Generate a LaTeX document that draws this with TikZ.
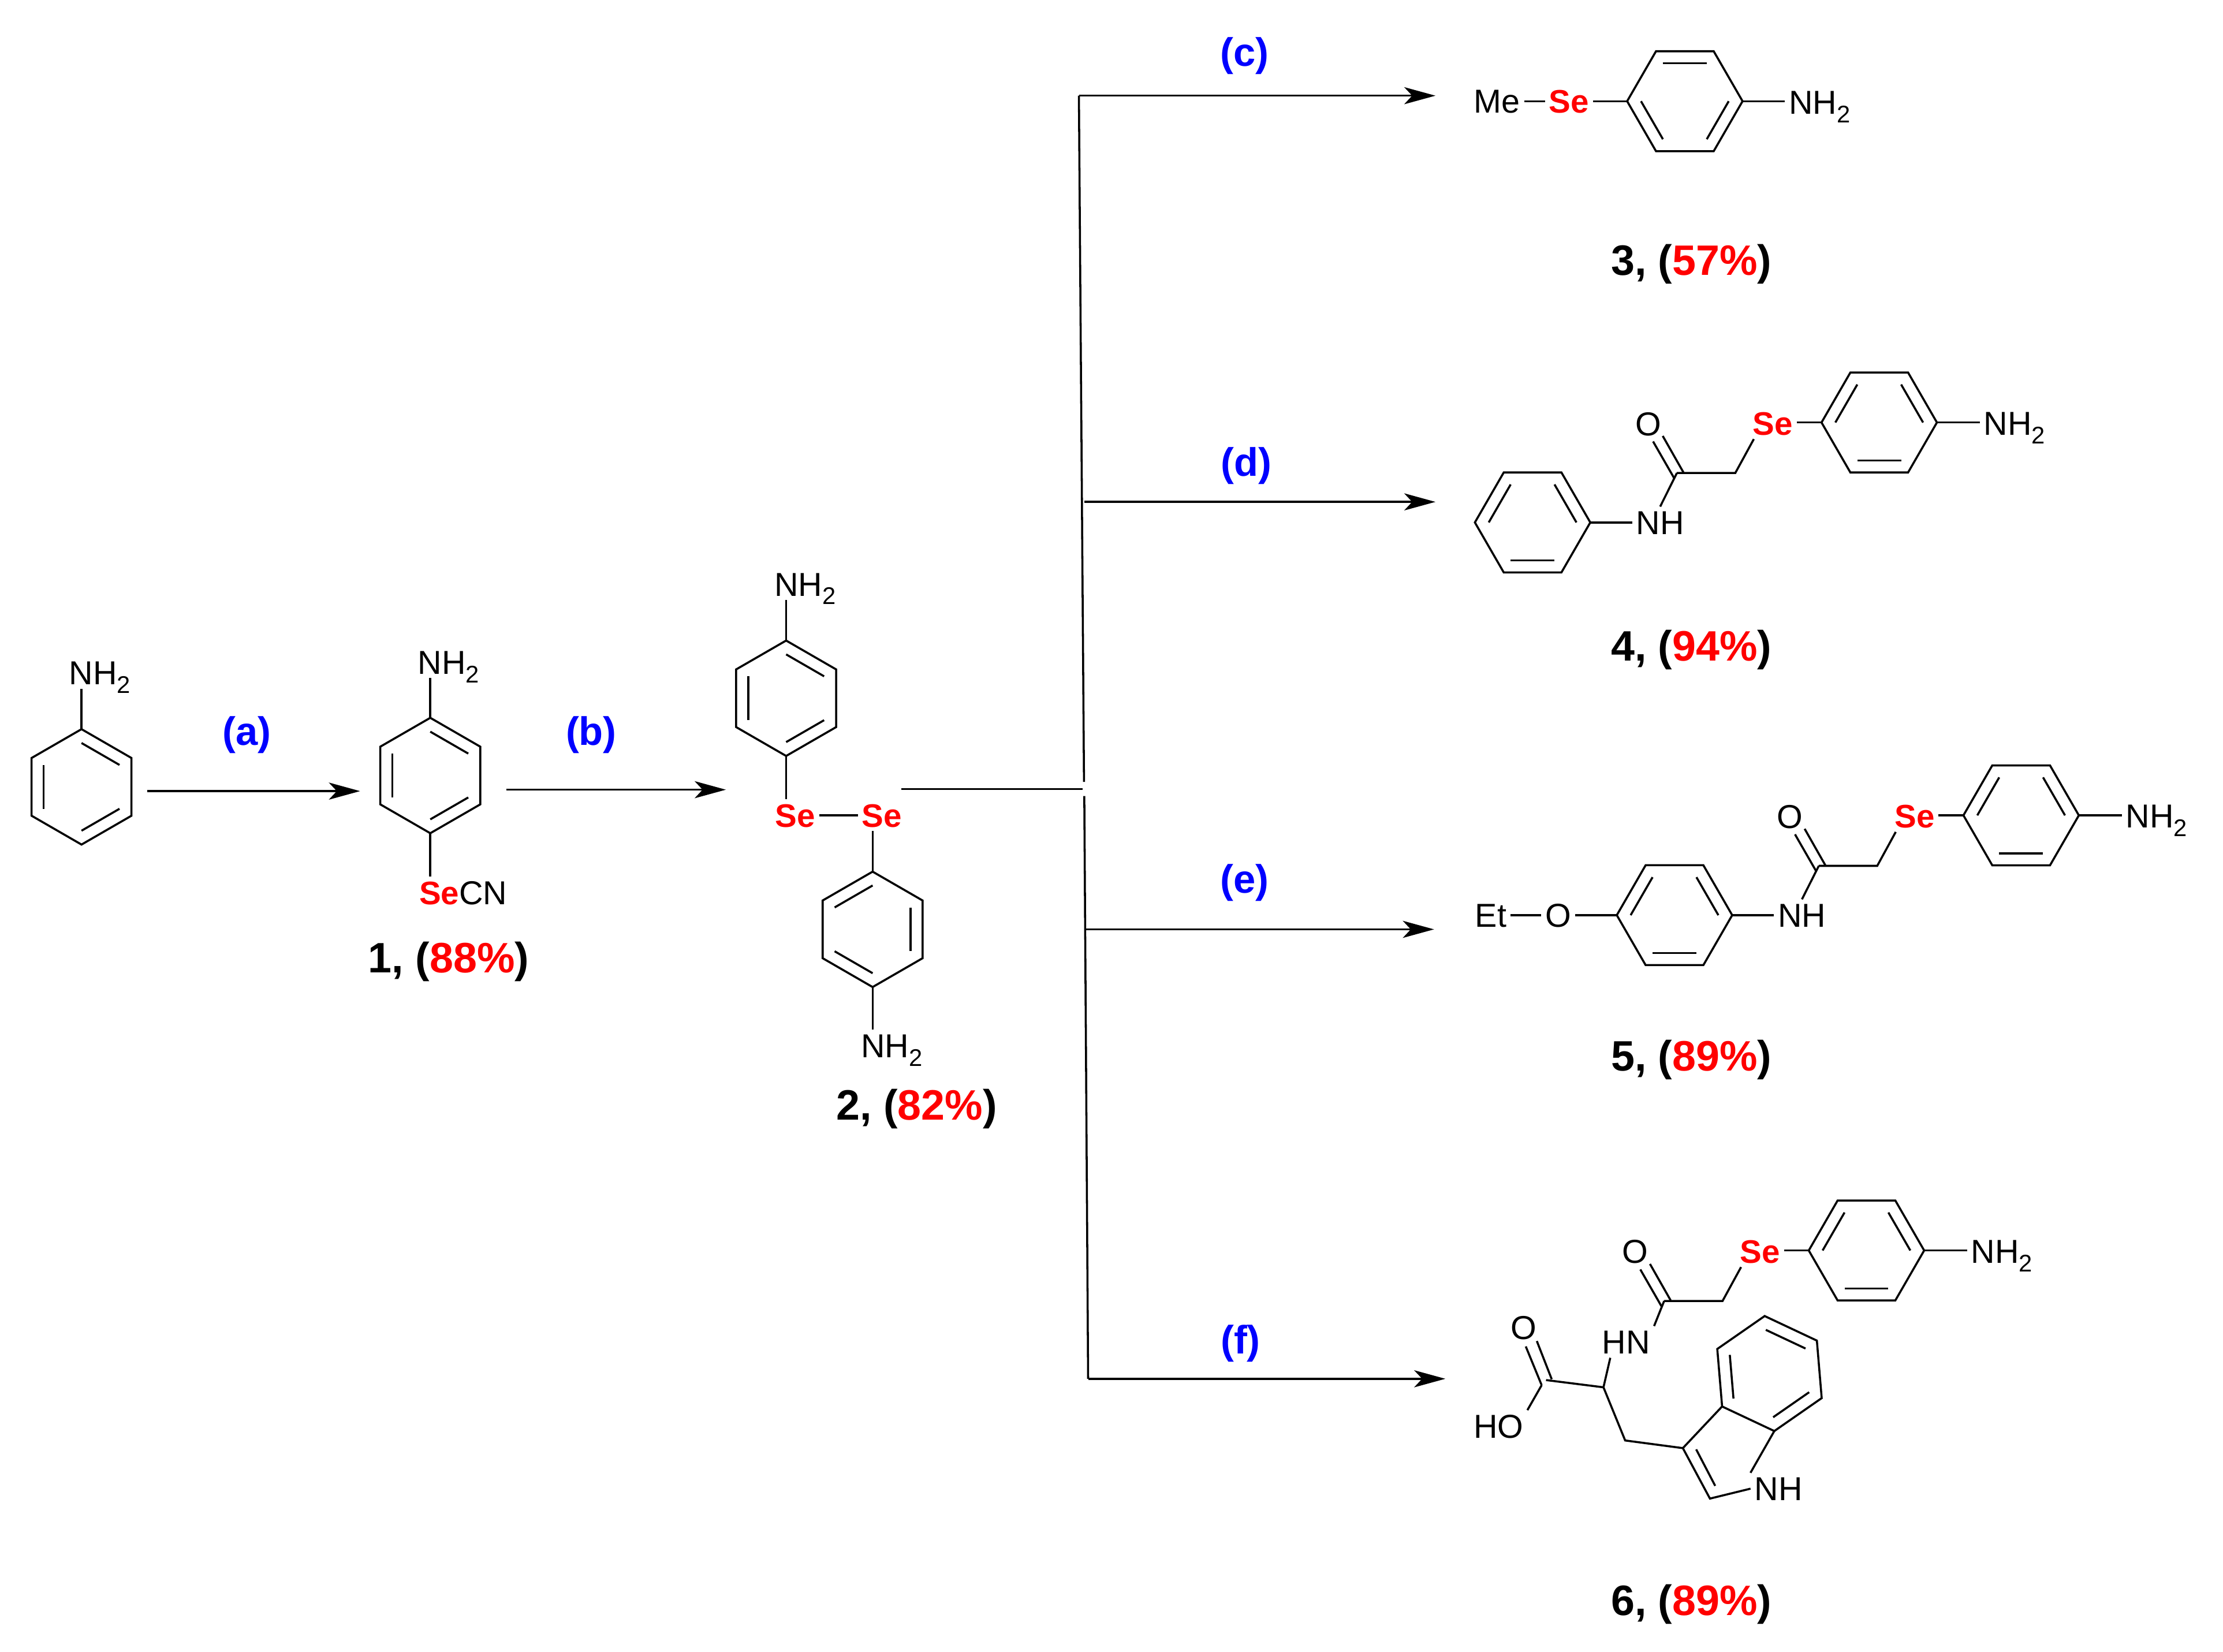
\documentclass[tikz,border=0pt]{standalone}
\usepackage{fontspec}
\setmainfont{Liberation Sans}
\usetikzlibrary{arrows.meta,calc}

\tikzset{
	bond/.style={line width=0.72pt},
	react/.style={line width=0.72pt,-{Stealth[length=11pt,width=6pt,inset=2.8pt]}},
	atom/.style={inner sep=1.2pt,text height=8.4pt,text depth=0pt,font=\fontsize{11.7}{13}\selectfont},
	sel/.style={atom,text=red,font=\fontsize{11.5}{13}\selectfont\bfseries},
	reagent/.style={inner sep=0pt,text=blue,font=\fontsize{14}{16}\selectfont\bfseries},
	yieldlab/.style={inner sep=0pt,text height=10.7pt,text depth=0pt,font=\fontsize{15}{17}\selectfont\bfseries}
}

\newcommand{\nhtwo}{NH\raisebox{-3pt}{\fontsize{8.5}{8.5}\selectfont 2}}

% name, centre, angle of first vertex
\newcommand{\benzring}[3]{
	\begin{scope}[shift={#2}]
		\coordinate (#1) at (0,0);
		\foreach \ka in {0,...,5}
			\coordinate (#1-\ka) at (#3+60*\ka:40.7);
	\end{scope}
	\draw[bond] (#1-0) -- (#1-1) -- (#1-2) -- (#1-3) -- (#1-4) -- (#1-5) -- cycle;
	\foreach \ka/\kb in {0/1,2/3,4/5}
		\draw[bond] ($(#1)!0.76!(#1-\ka)$) -- ($(#1)!0.76!(#1-\kb)$);
}

% name, centre of the ring: Se-CH2-C(=O) tail of 4, 5 and 6
\newcommand{\seamide}[2]{
	\begin{scope}[shift={#2}]
		\benzring{#1r}{(0,0)}{60}
		\node[sel] (#1se) at (-75.1,0.5) {Se};
		\node[atom,anchor=west] (#1nh) at (71,0.5) {\nhtwo};
		\node[atom] (#1o) at (-163,0.7) {O};
		\coordinate (#1ch) at (-101.5,35.6);
		\coordinate (#1co) at (-142.7,35.6);
		\coordinate (#1da) at (-152.7,9.5);
		\coordinate (#1db) at (-138.1,35.2);
		\coordinate (#1dc) at (-159.5,13.4);
		\coordinate (#1dd) at (-144.5,39.5);
	\end{scope}
	\draw[bond] (#1r-5) -- (#1r-5 -| #1nh.west);
	\draw[bond] (#1r-2) -- (#1r-2 -| #1se.east);
	\draw[bond] (#1co) -- (#1ch) -- (#1se.-140);
	\draw[bond] (#1da) -- (#1db);
	\draw[bond] (#1dc) -- (#1dd);
}

\begin{document}
\begin{tikzpicture}[x=0.5pt,y=-0.5pt]
	\useasboundingbox (0,0) rectangle (1568,1165);

	% aniline
	\benzring{ra}{(57.5,555)}{-90}
	\node[atom,anchor=west] (nha) at (46,474.5) {\nhtwo};
	\draw[bond] (ra-0) -- (ra-0 |- nha.south);

	% compound 1
	\benzring{rb}{(303.5,547)}{-90}
	\node[atom,anchor=west] (nhb) at (292,467) {\nhtwo};
	\node[atom,anchor=west] (secn) at (293,629.4) {\textcolor{red}{\fontsize{11.5}{13}\selectfont\bfseries Se}CN};
	\draw[bond] (rb-0) -- (rb-0 |- nhb.south);
	\draw[bond] (rb-3) -- (rb-3 |- secn.north);
	\node[yieldlab] (ya) at (316.5,675.5) {1, (\textcolor{red}{88\%})};

	% compound 2
	\benzring{rc}{(554.5,492.5)}{-90}
	\benzring{rd}{(615.5,655.5)}{-30}
	\node[atom,anchor=west] (nhc) at (543.5,412) {\nhtwo};
	\node[atom,anchor=west] (nhd) at (604.6,737.5) {\nhtwo};
	\node[sel] (sea) at (561,575) {Se};
	\node[sel] (seb) at (622,575) {Se};
	\draw[bond] (rc-0) -- (rc-0 |- nhc.south);
	\draw[bond] (rc-3) -- (rc-3 |- sea.north);
	\draw[bond] (sea) -- (seb);
	\draw[bond] (rd-5) -- (rd-5 |- seb.south);
	\draw[bond] (rd-2) -- (rd-2 |- nhd.north);
	\node[yieldlab] (yb) at (646.6,779) {2, (\textcolor{red}{82\%})};

	% compound 3
	\benzring{re}{(1188.4,71.4)}{0}
	\node[atom,anchor=west] (nhe) at (1259,72) {\nhtwo};
	\node[sel] (sec) at (1106.7,71.4) {Se};
	\node[atom] (me) at (1056,71.4) {Me};
	\draw[bond] (re-0) -- (re-0 -| nhe.west);
	\draw[bond] (re-3) -- (sec);
	\draw[bond] (sec) -- (me);
	\node[yieldlab] (yc) at (1193,183.5) {3, (\textcolor{red}{57\%})};

	% compound 4
	\seamide{f}{(1325.5,298)}
	\benzring{rf}{(1081,368.5)}{60}
	\node[atom] (nhf) at (1171,368.5) {NH};
	\draw[bond] (rf-5) -- (nhf);
	\draw[bond] (fco) -- (nhf.north);
	\node[yieldlab] (yd) at (1193,455.5) {4, (\textcolor{red}{94\%})};

	% compound 5
	\seamide{g}{(1425.6,575.1)}
	\benzring{rg}{(1181.1,645.5)}{60}
	\node[atom] (nhg) at (1271,645.5) {NH};
	\node[atom] (og) at (1099,645.5) {O};
	\node[atom] (et) at (1051.5,645.5) {Et};
	\draw[bond] (rg-5) -- (nhg);
	\draw[bond] (rg-2) -- (og);
	\draw[bond] (og) -- (et);
	\draw[bond] (gco) -- (nhg.north);
	\node[yieldlab] (ye) at (1193,744.5) {5, (\textcolor{red}{89\%})};

	% compound 6
	\seamide{h}{(1316.5,882)}
	\benzring{ind}{(1248.1,968.8)}{-94.8}
	\node[atom] (hn) at (1147,946.5) {HN};
	\node[atom] (oh) at (1057,1005.8) {HO};
	\node[atom] (oa) at (1074.6,936.2) {O};
	\node[atom] (nhi) at (1254.4,1050) {NH};
	\coordinate (ca) at (1131,978.5);
	\coordinate (cooh) at (1090.5,973.4);
	\coordinate (cb) at (1146.3,1016);
	\coordinate (cc) at (1187,1021.4);
	\coordinate (cd) at (1206.1,1057);
	\coordinate (cca) at (1084,945.9);
	\coordinate (ccb) at (1094.5,972.8);
	\coordinate (ccc) at (1076.2,949.7);
	\coordinate (ccd) at (1087.4,977);
	\coordinate (cda) at (1196.4,1022.3);
	\coordinate (cdb) at (1209.8,1048);
	\draw[bond] (hco) -- (hn.north east);
	\draw[bond] (hn.-135) -- (ca);
	\draw[bond] (cooh) -- (ca) -- (cb) -- (cc) -- (ind-4);
	\draw[bond] (cc) -- (cd) -- (nhi.west);
	\draw[bond] (nhi.north west) -- (ind-3);
	\draw[bond] (cda) -- (cdb);
	\draw[bond] (cca) -- (ccb);
	\draw[bond] (ccc) -- (ccd);
	\draw[bond] (ccd) -- (oh.north east);
	\node[yieldlab] (yf) at (1193,1128.5) {6, (\textcolor{red}{89\%})};

	% arrows
	\coordinate (aa) at (103.7,558);
	\coordinate (ab) at (254,558);
	\coordinate (ac) at (357,557);
	\coordinate (ad) at (512,557);
	\coordinate (ae) at (635.7,556.5);
	\coordinate (af) at (763.5,556.5);
	\coordinate (ta) at (761,67.5);
	\coordinate (tb) at (764.6,551.5);
	\coordinate (tc) at (764.8,561.5);
	\coordinate (td) at (767.5,972.5);
	\coordinate (ba) at (765,354);
	\coordinate (bb) at (765.5,655.5);
	\coordinate (ea) at (1012.5,67.5);
	\coordinate (eb) at (1012.5,354);
	\coordinate (ec) at (1011.5,655.5);
	\coordinate (ed) at (1019.5,972.5);
	\draw[react] (aa) to (ab);
	\draw[react] (ac) to (ad);
	\draw[bond] (ae) to (af);
	\draw[bond] (tb) to (ta);
	\draw[bond] (tc) to (td);
	\draw[react] (ta) to (ea);
	\draw[react] (ba) to (eb);
	\draw[react] (bb) to (ec);
	\draw[react] (td) to (ed);

	\node[reagent] (la) at (174,518.5) {(a)};
	\node[reagent] (lb) at (417,518.5) {(b)};
	\node[reagent] (lc) at (878,39.5) {(c)};
	\node[reagent] (ld) at (879,328.5) {(d)};
	\node[reagent] (le) at (878,622.5) {(e)};
	\node[reagent] (lf) at (875,947.5) {(f)};
\end{tikzpicture}
\end{document}
